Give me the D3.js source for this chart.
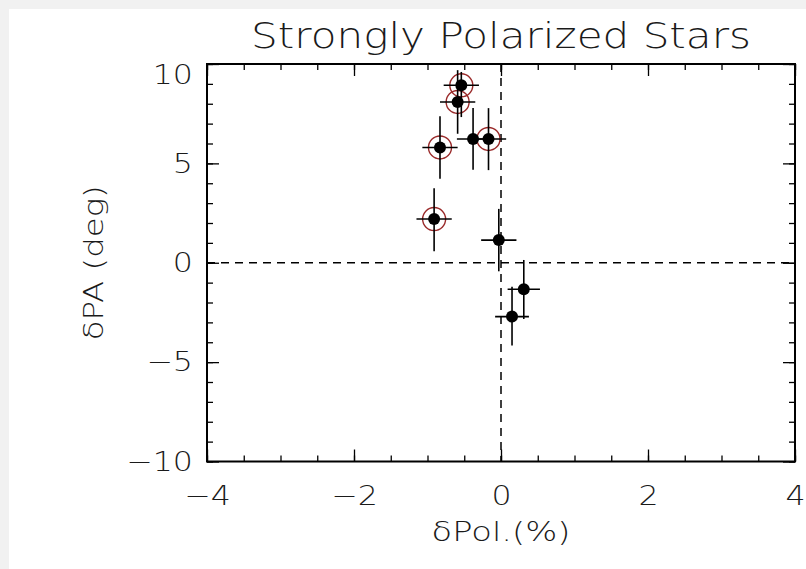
<!DOCTYPE html>
<html>
<head>
<meta charset="utf-8">
<script src="https://cdn.jsdelivr.net/npm/d3@7"></script>
<style>
  body { margin: 0; background: #f1f1f1; }
  svg { display: block; }
  text { font-family: "DejaVu Sans", sans-serif; font-weight: 200; fill: #1a1a1a; }
</style>
</head>
<body>
<svg id="chart" width="806" height="569"></svg>
<script>
// chart data
const title = "Strongly Polarized Stars";
const xLabel = "δPol.(%)";
const yLabel = "δPA (deg)";
const xTicks = [-4, -2, 0, 2, 4];
const yTicks = [-10, -5, 0, 5, 10];
const dPol = [-0.54, -0.59, -0.38, -0.17, -0.83, -0.91, -0.03, 0.31, 0.15];
const dPA = [8.93, 8.09, 6.23, 6.23, 5.80, 2.20, 1.14, -1.33, -2.71];
const polErr = [0.24, 0.24, 0.22, 0.24, 0.24, 0.24, 0.24, 0.22, 0.23];
const paErrUp = [0.67, 1.6, 1.55, 1.55, 1.57, 1.55, 1.57, 1.47, 1.5];
const paErrDown = [1.6, 1.6, 1.55, 1.57, 1.57, 1.62, 1.57, 1.5, 1.45];
const circled = [true, true, false, true, true, true, false, false, false];

// the plot font in the original is wide, stretch text a bit
var stretch = 1.17;

var svg = d3.select('#chart');

// white page area, grey edge on top and left
svg.append('rect')
  .attr('x', 9).attr('y', 9)
  .attr('width', 806 - 9).attr('height', 569 - 9)
  .attr('fill', '#fff');

var plot = { l: 207, r: 795, t: 64, b: 461.5 };

var x = d3.scaleLinear().domain([-4, 4]).range([plot.l, plot.r]);
var y = d3.scaleLinear().domain([-10, 10]).range([plot.b, plot.t]);

var pts = dPol.map((d, i) => ({
  x: d, y: dPA[i], ex: polErr[i], up: paErrUp[i], dn: paErrDown[i], c: circled[i]
}));

var fmt = d => d < 0 ? '\u2212' + Math.abs(d) : d;

// ticks (inward), major + minor on all four sides
function styleAxis(g) {
  g.select('.domain').remove();
  g.selectAll('line').attr('stroke', '#000').attr('stroke-width', 1.3);
}
var xMinor = d3.range(-4, 4.01, 0.5);
var yMinor = d3.range(-10, 10.01, 1);

svg.append('g').attr('transform', `translate(0,${plot.b})`)
  .call(d3.axisBottom(x).tickValues(xMinor).tickSize(-6).tickFormat(''))
  .call(styleAxis);
svg.append('g').attr('transform', `translate(0,${plot.t})`)
  .call(d3.axisTop(x).tickValues(xMinor).tickSize(-6).tickFormat(''))
  .call(styleAxis);
svg.append('g').attr('transform', `translate(${plot.l},0)`)
  .call(d3.axisLeft(y).tickValues(yMinor).tickSize(-6).tickFormat(''))
  .call(styleAxis);
svg.append('g').attr('transform', `translate(${plot.r},0)`)
  .call(d3.axisRight(y).tickValues(yMinor).tickSize(-6).tickFormat(''))
  .call(styleAxis);

var xAx = svg.append('g').attr('transform', `translate(0,${plot.b})`)
  .call(d3.axisBottom(x).tickValues(xTicks).tickSize(-12).tickPadding(24).tickFormat(fmt))
  .call(styleAxis);
xAx.selectAll('text')
  .attr('font-size', 27).attr('fill', '#1a1a1a')
  .attr('transform', `scale(${stretch},1)`);

svg.append('g').attr('transform', `translate(0,${plot.t})`)
  .call(d3.axisTop(x).tickValues(xTicks).tickSize(-12).tickFormat(''))
  .call(styleAxis);

var yAx = svg.append('g').attr('transform', `translate(${plot.l},0)`)
  .call(d3.axisLeft(y).tickValues(yTicks).tickSize(-12).tickPadding(12).tickFormat(fmt))
  .call(styleAxis);
yAx.selectAll('text')
  .attr('font-size', 27).attr('fill', '#1a1a1a')
  .attr('transform', `scale(${stretch},1)`)
  // top label sits lower than its tick in the original
  .attr('y', d => d === 10 ? 11 : 0);

svg.append('g').attr('transform', `translate(${plot.r},0)`)
  .call(d3.axisRight(y).tickValues(yTicks).tickSize(-12).tickFormat(''))
  .call(styleAxis);

// frame
svg.append('rect')
  .attr('x', plot.l).attr('y', plot.t)
  .attr('width', plot.r - plot.l).attr('height', plot.b - plot.t)
  .attr('fill', 'none').attr('stroke', '#000').attr('stroke-width', 2);

// zero lines
svg.append('line')
  .attr('x1', x(0)).attr('x2', x(0)).attr('y1', plot.t).attr('y2', plot.b)
  .attr('stroke', '#000').attr('stroke-width', 1.5).attr('stroke-dasharray', '8,6');
svg.append('line')
  .attr('x1', plot.l).attr('x2', plot.r).attr('y1', y(0)).attr('y2', y(0))
  .attr('stroke', '#000').attr('stroke-width', 1.5).attr('stroke-dasharray', '8,6');

// red rings behind the marked stars
svg.append('g').selectAll('circle')
  .data(pts.filter(d => d.c))
  .enter().append('circle')
  .attr('cx', d => x(d.x)).attr('cy', d => y(d.y)).attr('r', 11.5)
  .attr('fill', 'none').attr('stroke', '#9a2a2a').attr('stroke-width', 1.4);

// error bars
var eb = svg.append('g').attr('stroke', '#000').attr('stroke-width', 1.6);
eb.selectAll('.ex').data(pts).enter().append('line')
  .attr('x1', d => x(d.x - d.ex)).attr('x2', d => x(d.x + d.ex))
  .attr('y1', d => y(d.y)).attr('y2', d => y(d.y));
eb.selectAll('.ey').data(pts).enter().append('line')
  .attr('x1', d => x(d.x)).attr('x2', d => x(d.x))
  .attr('y1', d => y(d.y + d.up)).attr('y2', d => y(d.y - d.dn));

// points
svg.append('g').selectAll('circle')
  .data(pts)
  .enter().append('circle')
  .attr('cx', d => x(d.x)).attr('cy', d => y(d.y)).attr('r', 6)
  .attr('fill', '#000');

// titles
svg.append('text').text(title)
  .attr('transform', `translate(${(plot.l + plot.r) / 2},48) scale(${stretch},1)`)
  .attr('text-anchor', 'middle').attr('font-size', 36);

svg.append('text').text(xLabel)
  .attr('transform', `translate(${(plot.l + plot.r) / 2},541) scale(1.25,1)`)
  .attr('text-anchor', 'middle').attr('font-size', 27);

svg.append('text').text(yLabel)
  .attr('transform', `translate(103,${(plot.t + plot.b) / 2}) rotate(-90) scale(1.2,1)`)
  .attr('text-anchor', 'middle').attr('font-size', 27);
</script>
</body>
</html>
